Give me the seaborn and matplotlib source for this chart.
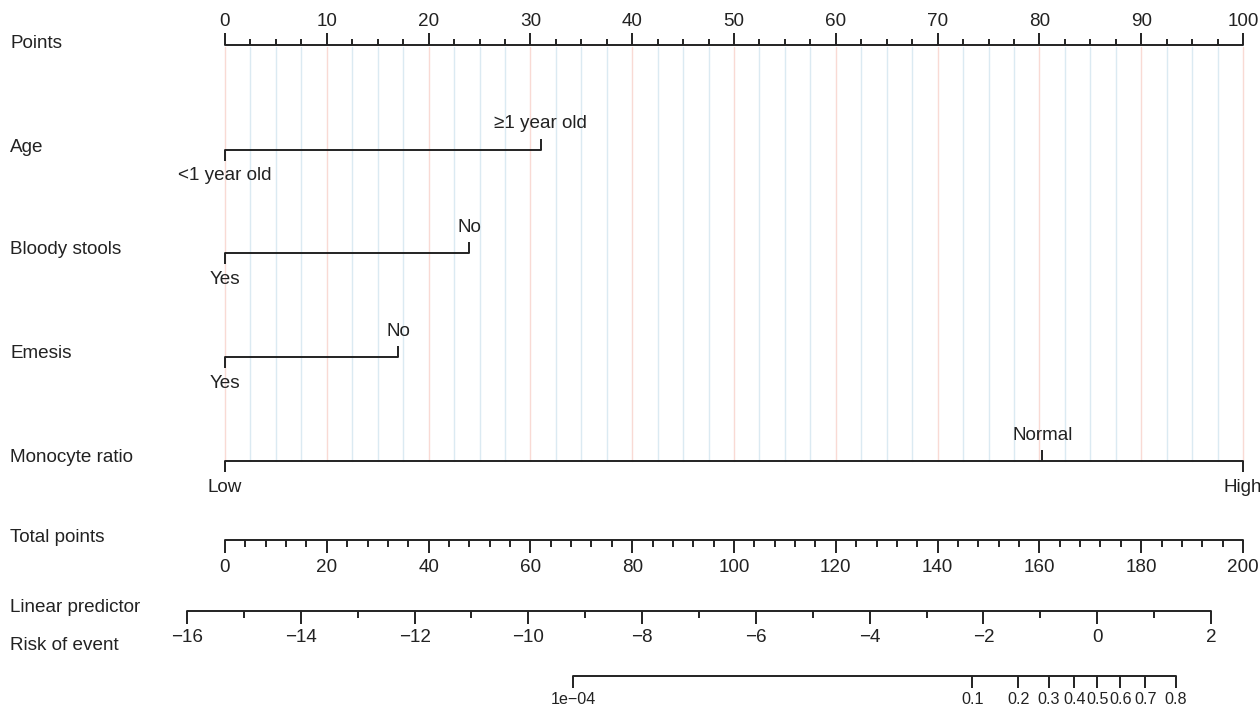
import numpy as np
import pandas as pd
import matplotlib
matplotlib.use("Agg")
import matplotlib.pyplot as plt
import matplotlib.transforms as mtransforms
import seaborn as sns

# ---- nomogram values ----
points_ticks = list(range(0, 101, 10))
points_minor_step = 2.5

age_levels = ["<1 year old", "\u22651 year old"]
age_points = [0, 31]
bloody_levels = ["Yes", "No"]
bloody_points = [0, 24]
emesis_levels = ["Yes", "No"]
emesis_points = [0, 17]
monocyte_levels = ["Low", "Normal", "High"]
monocyte_points = [0, 80.3, 100]

total_ticks = list(range(0, 201, 20))
total_minor_step = 4
lp_ticks = list(range(-16, 3, 2))
lp_minor_step = 1
lp_intercept = -15.332
lp_per_total_point = 0.08947
risk_ticks = [1e-4, 0.1, 0.2, 0.3, 0.4, 0.5, 0.6, 0.7, 0.8]
risk_labels = ["1e\u221204", "0.1", "0.2", "0.3", "0.4", "0.5", "0.6", "0.7", "0.8"]

row_names = ["Points", "Age", "Bloody stools", "Emesis", "Monocyte ratio",
             "Total points", "Linear predictor", "Risk of event"]

# ---- layout (figure pixel rows) ----
W, H = 1260, 708
row_label_y = [43, 148, 250, 353, 458, 537, 607, 645]
line_y = {"Points": 45, "Age": 150, "Bloody stools": 253, "Emesis": 357,
          "Monocyte ratio": 461, "Total points": 540, "Linear predictor": 611,
          "Risk of event": 676}

sns.set_theme(style="white")
plt.rcParams["font.family"] = ["Liberation Sans", "DejaVu Sans"]

INK = "#222222"
LW = 1.4
FS = 13.6

fig = plt.figure(figsize=(W / 100, H / 100), dpi=100)
ax = fig.add_axes([225 / W, 0, 1018 / W, 1])
ax.set_xlim(0, 100)
ax.set_ylim(H, 0)
ax.axis("off")


def total_to_x(t):
    return np.asarray(t, dtype=float) / 2.0


def lp_to_x(lp):
    return total_to_x((np.asarray(lp, dtype=float) - lp_intercept) / lp_per_total_point)


def risk_to_x(p):
    p = np.asarray(p, dtype=float)
    return lp_to_x(np.log(p / (1 - p)))


def hline(x0, x1, y):
    sns.lineplot(x=[x0, x1], y=[y, y], ax=ax, color=INK, lw=LW,
                 estimator=None, sort=False)


def ticks(xs, y, length, direction):
    for x in np.atleast_1d(xs):
        ax.plot([x, x], [y, y + direction * length], color=INK, lw=LW,
                solid_capstyle="butt")


def labels(xs, texts, y, **kw):
    kw.setdefault("fontsize", FS)
    for x, t in zip(np.atleast_1d(xs), texts):
        ax.text(x, y, t, ha="center", va="center", color=INK, **kw)


# reference grid through the predictor rows
grid_vals = np.arange(0, 100 + 1e-9, points_minor_step)
for g in grid_vals:
    major = abs(g / 10 - round(g / 10)) < 1e-9
    ax.plot([g, g], [line_y["Points"] + 2, line_y["Monocyte ratio"]],
            color="#f9dad4" if major else "#dbeaf2", lw=1.0, zorder=0)

# Points scale (ticks upward)
yp = line_y["Points"]
hline(0, 100, yp)
ticks(np.setdiff1d(grid_vals, points_ticks), yp, 6, -1)
ticks(points_ticks, yp, 12, -1)
labels(points_ticks, [str(v) for v in points_ticks], yp - 24)


# categorical predictors: labels alternate below / above the line
def category_row(name, levels, pts):
    y = line_y[name]
    hline(min(pts), max(pts), y)
    for i, (lev, p) in enumerate(zip(levels, pts)):
        d = 1 if i % 2 == 0 else -1
        ticks([p], y, 11, d)
        labels([p], [lev], y + d * 26)


category_row("Age", age_levels, age_points)
category_row("Bloody stools", bloody_levels, bloody_points)
category_row("Emesis", emesis_levels, emesis_points)
category_row("Monocyte ratio", monocyte_levels, monocyte_points)

# Total points
yt = line_y["Total points"]
hline(total_to_x(0), total_to_x(200), yt)
minor_tot = np.setdiff1d(np.arange(0, 201, total_minor_step), total_ticks)
ticks(total_to_x(minor_tot), yt, 7, 1)
ticks(total_to_x(total_ticks), yt, 13, 1)
labels(total_to_x(total_ticks), [str(v) for v in total_ticks], yt + 27)

# Linear predictor
yl = line_y["Linear predictor"]
hline(lp_to_x(lp_ticks[0]), lp_to_x(lp_ticks[-1]), yl)
minor_lp = np.setdiff1d(np.arange(lp_ticks[0], lp_ticks[-1] + 1, lp_minor_step), lp_ticks)
ticks(lp_to_x(minor_lp), yl, 7, 1)
ticks(lp_to_x(lp_ticks), yl, 13, 1)
labels(lp_to_x(lp_ticks), [str(v).replace("-", "\u2212") for v in lp_ticks], yl + 26)

# Risk of event (tightly packed labels near the upper end)
yr = line_y["Risk of event"]
hline(risk_to_x(risk_ticks[0]), risk_to_x(risk_ticks[-1]), yr)
ticks(risk_to_x(risk_ticks), yr, 12, 1)
labels(risk_to_x(risk_ticks), risk_labels, yr + 24, fontsize=11.6)

# row names on the left margin
trans = mtransforms.blended_transform_factory(fig.transFigure, ax.transData)
for name, y in zip(row_names, row_label_y):
    ax.text(10 / W, y, name, transform=trans, ha="left", va="center",
            fontsize=FS, color=INK)

for art in ax.get_children():
    try:
        art.set_clip_on(False)
    except Exception:
        pass
if ax.get_legend() is not None:
    ax.get_legend().remove()

fig.savefig("out.png", dpi=100, facecolor="white")
